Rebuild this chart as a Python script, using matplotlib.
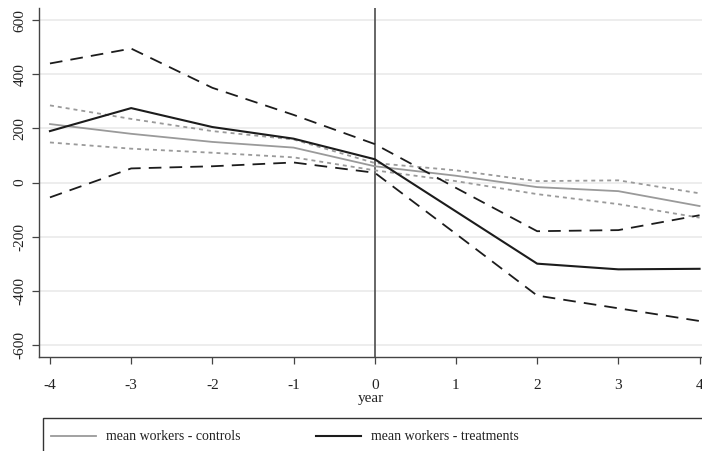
import matplotlib
matplotlib.use("Agg")
import matplotlib.pyplot as plt
from matplotlib.patches import Rectangle

years = [-4, -3, -2, -1, 0, 1, 2, 3, 4]

# controls (grey)
ctrl_mean = [216, 180, 150, 129, 60, 25, -17, -32, -87]
ctrl_hi = [285, 235, 190, 159, 72, 45, 5, 8, -40]
ctrl_lo = [148, 125, 110, 93, 45, 5, -43, -80, -130]

# treatments (black)
treat_mean = [190, 275, 205, 162, 86, -107, -300, -321, -319]
treat_hi = [440, 495, 350, 250, 142, -20, -180, -176, -121]
treat_lo = [-55, 52, 60, 74, 36, -190, -418, -465, -512]

plt.rcParams['font.family'] = ['Liberation Serif', 'DejaVu Serif']

fig = plt.figure(figsize=(7.02, 4.51), dpi=100)
ax = fig.add_axes([39/702, 1-357/451, 1-39/702, (357-8)/451])

grey = '#9a9a9a'
black = '#1c1c1c'

for y in range(-600, 601, 200):
    ax.axhline(y, color='#ececec', lw=1.3, zorder=0)

ax.axvline(0, color='#5a5a5a', lw=1.3, zorder=1)

ax.plot(years, ctrl_hi, color=grey, lw=1.3, ls=(0, (2.2, 2.2)), zorder=2)
ax.plot(years, ctrl_lo, color=grey, lw=1.3, ls=(0, (2.2, 2.2)), zorder=2)
l1, = ax.plot(years, ctrl_mean, color=grey, lw=1.3, zorder=3,
              label='mean workers - controls')
ax.plot(years, treat_hi, color=black, lw=1.3, ls=(0, (7, 4.5)), zorder=4)
ax.plot(years, treat_lo, color=black, lw=1.3, ls=(0, (7, 4.5)), zorder=4)
l2, = ax.plot(years, treat_mean, color=black, lw=1.5, zorder=5,
              label='mean workers - treatments')

ax.set_xlim(-4.135, 4.03)
ax.set_ylim(-645, 645)
ax.set_xticks(years)
ax.set_xticklabels([str(y) for y in years])
ax.set_yticks(range(-600, 601, 200))
ax.set_yticklabels([str(y) for y in range(-600, 601, 200)], rotation=90, va='center')
ax.tick_params(axis='both', direction='out', length=5, width=0.9,
               color='#444444', labelsize=11, labelcolor='#222222', pad=4)
ax.tick_params(axis='x', pad=11)
ax.set_xlabel('year', fontsize=11, color='#222222', labelpad=0)

for s in ['top', 'right']:
    ax.spines[s].set_visible(False)
for s in ['left', 'bottom']:
    ax.spines[s].set_color('#444444')
    ax.spines[s].set_linewidth(1.0)

# legend box running off the figure, as in the original
fig.patches.append(Rectangle((43/702, -0.05), 0.99, 1-418/451+0.05,
                             transform=fig.transFigure, fill=False,
                             edgecolor='#333333', lw=1.0))
fig.legend(handles=[l1, l2], loc='center left', ncol=2, frameon=False,
           bbox_to_anchor=(38/702, 1-437/451), fontsize=10, handlelength=3.3,
           handletextpad=0.7, columnspacing=5.4, labelcolor='#222222')

fig.savefig('out.png', dpi=100)
